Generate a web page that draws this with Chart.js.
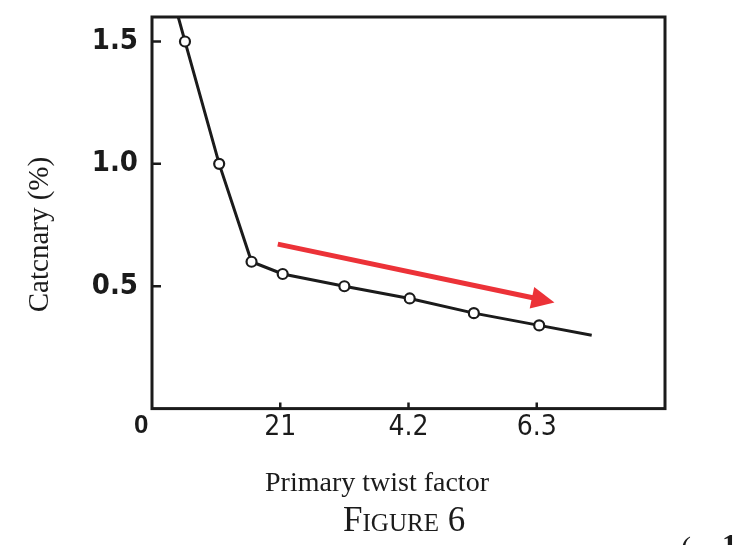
<!DOCTYPE html>
<html>
<head>
<meta charset="utf-8">
<script src="https://cdn.jsdelivr.net/npm/chart.js@4.4.1/dist/chart.umd.min.js"></script>
<style>
  html, body { margin: 0; padding: 0; background: #fff; }
  #wrap { width: 743px; height: 545px; position: relative; }
</style>
</head>
<body>
<div id="wrap"><canvas id="fig6"></canvas></div>
<script>
// ── DATA ──
const twistFactor = [0.43, 0.54, 1.10, 1.63, 2.14, 3.15, 4.22, 5.27, 6.34, 7.20];
const catenary    = [1.60, 1.50, 1.00, 0.60, 0.55, 0.50, 0.45, 0.39, 0.34, 0.30];
const xTicks      = [0, 2.1, 4.2, 6.3];
const xTickLabels = ['0   ', '21', '4.2', '6.3'];
const yTicks      = [0.5, 1.0, 1.5];
const yTickLabels = ['0.5', '1.0', '1.5'];
const arrowX      = [2.06, 6.59];
const arrowY      = [0.672, 0.434];

const NARROW = "'Liberation Sans Narrow', 'DejaVu Sans Condensed', 'Liberation Sans', sans-serif";
const SERIF  = "'Liberation Serif', 'DejaVu Serif', serif";
const INK    = '#1b1b1b';

// ── FRAME + INWARD TICKS + ARROW ──
const figPlugin = {
  id: 'figExtras',
  afterDatasetsDraw(chart) {
    const { ctx, scales: { x, y } } = chart;
    ctx.save();
    // red trend arrow
    const x0 = x.getPixelForValue(arrowX[0]), y0 = y.getPixelForValue(arrowY[0]);
    const x1 = x.getPixelForValue(arrowX[1]), y1 = y.getPixelForValue(arrowY[1]);
    const len = Math.hypot(x1 - x0, y1 - y0);
    const ux = (x1 - x0) / len, uy = (y1 - y0) / len;
    const head = 23, half = 11;
    const bx = x1 - ux * head, by = y1 - uy * head;
    ctx.strokeStyle = '#ec3238';
    ctx.fillStyle = '#ec3238';
    ctx.lineWidth = 5;
    ctx.beginPath();
    ctx.moveTo(x0, y0);
    ctx.lineTo(bx + ux * 2, by + uy * 2);
    ctx.stroke();
    ctx.beginPath();
    ctx.moveTo(x1, y1);
    ctx.lineTo(bx - uy * half, by + ux * half);
    ctx.lineTo(bx + uy * half, by - ux * half);
    ctx.closePath();
    ctx.fill();
    ctx.restore();
  },
  afterDraw(chart) {
    const { ctx, chartArea: a, scales: { x, y } } = chart;
    ctx.save();
    ctx.strokeStyle = INK;
    ctx.lineWidth = 3;
    ctx.strokeRect(a.left, a.top, a.right - a.left, a.bottom - a.top);
    ctx.lineWidth = 2.5;
    ctx.beginPath();
    yTicks.forEach(v => {
      const py = y.getPixelForValue(v);
      ctx.moveTo(a.left, py);
      ctx.lineTo(a.left + 9, py);
    });
    xTicks.filter(v => v > 0).forEach(v => {
      const px = x.getPixelForValue(v);
      ctx.moveTo(px, a.bottom);
      ctx.lineTo(px, a.bottom - 6);
    });
    ctx.stroke();
    // cropped marks at the lower right edge of the scan
    ctx.fillStyle = INK;
    ctx.font = '30px ' + SERIF;
    ctx.fillText('(', 681, 557);
    ctx.font = 'bold 30px ' + SERIF;
    ctx.fillText('1', 722, 554);
    ctx.restore();
  }
};

new Chart(document.getElementById('fig6'), {
  type: 'scatter',
  data: {
    datasets: [{
      data: twistFactor.map((v, i) => ({ x: v, y: catenary[i] })),
      showLine: true,
      borderColor: INK,
      borderWidth: 3,
      pointRadius: c => (c.dataIndex === 0 || c.dataIndex === twistFactor.length - 1) ? 0 : 5,
      pointBackgroundColor: '#fff',
      pointBorderColor: INK,
      pointBorderWidth: 2.2,
      tension: 0
    }]
  },
  options: {
    responsive: true,
    maintainAspectRatio: false,
    animation: false,
    layout: { padding: { top: 17, right: 78, left: 0, bottom: 0 } },
    plugins: {
      legend: { display: false },
      tooltip: { enabled: false },
      title: {
        display: true,
        position: 'bottom',
        fullSize: false,
        text: 'Figure 6 ',
        color: INK,
        font: { family: SERIF, size: 35, weight: 'small-caps' },
        padding: { top: 0, bottom: 2.6 }
      }
    },
    scales: {
      x: {
        type: 'linear',
        min: 0, max: 8.4,
        afterFit: s => { s.height = 91.8; s.paddingLeft = 0; s.paddingRight = 0; },
        afterBuildTicks: s => { s.ticks = xTicks.map(v => ({ value: v })); },
        grid: { display: false, drawTicks: false },
        border: { display: false },
        ticks: {
          padding: 2,
          color: INK,
          font: c => (c.tick && c.tick.value === 0)
            ? { family: "'Liberation Sans', sans-serif", size: 26, weight: 'bold' }
            : { family: NARROW, size: 28 },
          callback: (v, i) => xTickLabels[i]
        },
        title: {
          display: true,
          text: 'Primary twist factor         ',
          color: INK,
          font: { family: SERIF, size: 28 },
          padding: { top: 0, bottom: 0 }
        }
      },
      y: {
        type: 'linear',
        min: 0, max: 1.6,
        afterFit: s => { s.width = 152; s.paddingTop = 0; s.paddingBottom = 0; },
        afterBuildTicks: s => { s.ticks = yTicks.map(v => ({ value: v })); },
        grid: { display: false, drawTicks: false },
        border: { display: false },
        ticks: {
          padding: 14,
          color: INK,
          font: { family: NARROW, size: 29, weight: 'bold' },
          callback: (v, i) => yTickLabels[i]
        },
        title: {
          display: true,
          text: 'Catcnary (%)      ',
          color: INK,
          font: { family: SERIF, size: 29 },
          padding: { top: 22.6, bottom: 0 }
        }
      }
    }
  },
  plugins: [figPlugin]
});
</script>
</body>
</html>
